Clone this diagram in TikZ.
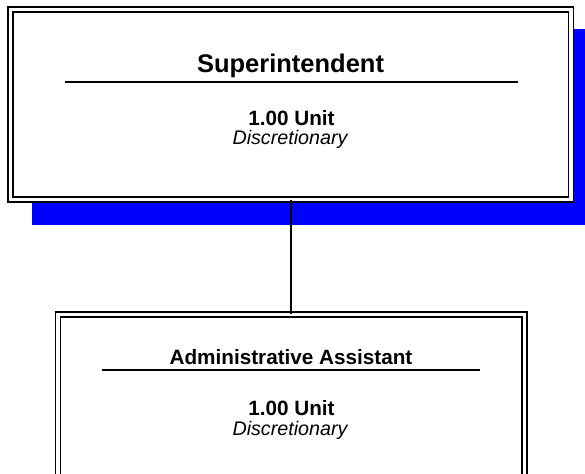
\documentclass[tikz,border=0pt]{standalone}
\usepackage{fontspec}
\setmainfont{Liberation Sans}
\definecolor{shadowblue}{RGB}{0,0,255}
\begin{document}
\begin{tikzpicture}[x=1pt,y=-1pt,
  posbox/.style={draw=black,line width=1.8pt,double=white,double distance=3.2pt,fill=white,inner sep=0pt},
  titletxt/.style={anchor=base,inner sep=0pt,font=\bfseries\fontsize{25.5}{30}\selectfont},
  subtitletxt/.style={anchor=base,inner sep=0pt,font=\bfseries\fontsize{20.7}{24}\selectfont},
  unittxt/.style={anchor=base,inner sep=0pt,font=\bfseries\fontsize{20.7}{24}\selectfont},
  disctxt/.style={anchor=base,inner sep=0pt,font=\itshape\fontsize{19.7}{23}\selectfont},
  rule/.style={line width=1.8pt},
  connector/.style={line width=1.7pt}]
\clip (0,0) rectangle (585,473);
\fill[white] (0,0) rectangle (585,473);
% shadow
\fill[shadowblue] (32,29) rectangle (590,225);
% top box
\node[posbox,minimum width=560.5pt,minimum height=190pt] (sup) at (290.75,104.5) {};
% bottom box
\node[posbox,minimum width=466.5pt,minimum height=180pt] (asst) at (291.25,404.5) {};
% connector
\draw[connector] (sup.south -| asst.north) -- (asst.north);
% top texts
\node[titletxt] (suptitle) at (290.5,73) {Superintendent};
\coordinate (supruleL) at (65,82);
\coordinate (supruleR) at (518,82);
\draw[rule] (supruleL) -- (supruleR);
\node[unittxt] (supunit) at (291.5,126) {1.00 Unit};
\node[disctxt] (supdisc) at (290,145) {Discretionary};
% bottom texts
\node[subtitletxt] (asstitle) at (291,364) {Administrative Assistant};
\coordinate (assruleL) at (102,370);
\coordinate (assruleR) at (480,370);
\draw[rule] (assruleL) -- (assruleR);
\node[unittxt] (assunit) at (291.5,415) {1.00 Unit};
\node[disctxt] (assdisc) at (290,435) {Discretionary};
\end{tikzpicture}
\end{document}
